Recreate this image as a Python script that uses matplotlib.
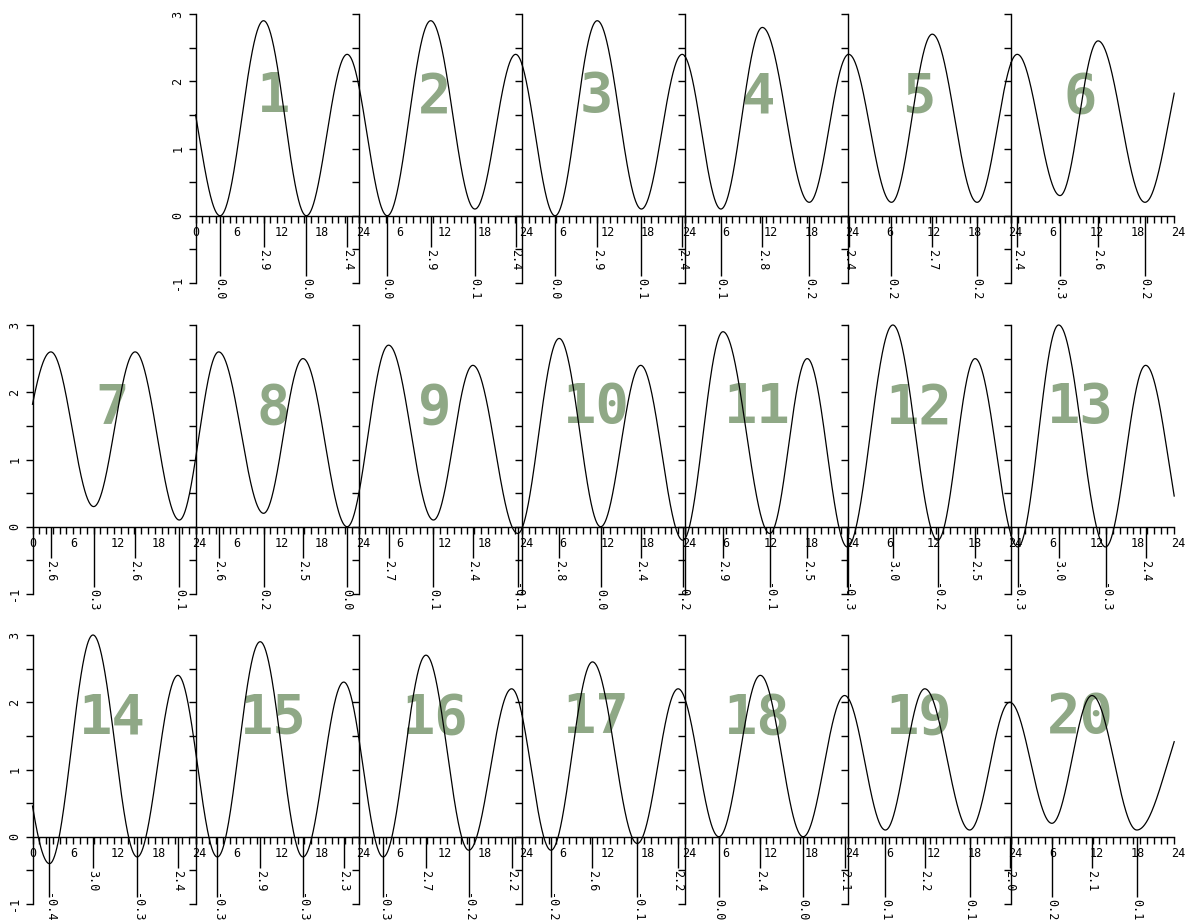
import numpy as np
import matplotlib
matplotlib.use('Agg')
import matplotlib.pyplot as plt
import matplotlib.transforms as mtransforms
from matplotlib.ticker import FixedLocator, FuncFormatter

# high / low waters: day, hour of day, height
# (the day 0 and day 21 entries only shape the curve at the two ends)
ext_day = [0,
           1, 1, 1, 1,
           2, 2, 2, 2,
           3, 3, 3, 3,
           4, 4, 4,
           5, 5, 5, 5,
           6, 6, 6, 6,
           7, 7, 7, 7,
           8, 8, 8, 8,
           9, 9, 9, 9,
           10, 10, 10, 10,
           11, 11, 11, 11,
           12, 12, 12,
           13, 13, 13, 13,
           14, 14, 14, 14,
           15, 15, 15, 15,
           16, 16, 16, 16,
           17, 17, 17, 17,
           18, 18, 18, 18,
           19, 19, 19, 19,
           20, 20, 20,
           21]
ext_hour = [21.4,
            3.6, 10.0, 16.3, 22.3,
            4.2, 10.6, 17.1, 23.1,
            4.9, 11.1, 17.6, 23.6,
            5.3, 11.4, 18.3,
            0.1, 6.4, 12.4, 19.0,
            0.9, 7.2, 12.8, 19.7,
            2.7, 9.0, 15.1, 21.6,
            3.4, 10.0, 15.8, 22.3,
            4.4, 11.0, 16.8, 23.4,
            5.5, 11.6, 17.5, 23.7,
            5.6, 12.5, 18.0, 23.9,
            6.6, 13.2, 18.7,
            1.0, 7.0, 13.9, 19.8,
            2.5, 8.9, 15.4, 21.4,
            3.2, 9.5, 15.8, 21.8,
            3.6, 9.9, 16.2, 22.5,
            4.3, 10.4, 17.0, 23.0,
            5.0, 11.1, 17.4, 23.5,
            5.5, 11.3, 17.9, 23.8,
            6.0, 11.9, 18.5,
            3.3]
ext_height = [2.4,
              0.0, 2.9, 0.0, 2.4,
              0.0, 2.9, 0.1, 2.4,
              0.0, 2.9, 0.1, 2.4,
              0.1, 2.8, 0.2,
              2.4, 0.2, 2.7, 0.2,
              2.4, 0.3, 2.6, 0.2,
              2.6, 0.3, 2.6, 0.1,
              2.6, 0.2, 2.5, 0.0,
              2.7, 0.1, 2.4, -0.1,
              2.8, 0.0, 2.4, -0.2,
              2.9, -0.1, 2.5, -0.3,
              3.0, -0.2, 2.5,
              -0.3, 3.0, -0.3, 2.4,
              -0.4, 3.0, -0.3, 2.4,
              -0.3, 2.9, -0.3, 2.3,
              -0.3, 2.7, -0.2, 2.2,
              -0.2, 2.6, -0.1, 2.2,
              0.0, 2.4, 0.0, 2.1,
              0.1, 2.2, 0.1, 2.0,
              0.2, 2.1, 0.1,
              2.0]

n_days = 20

t_ext = (np.array(ext_day) - 1) * 24 + np.array(ext_hour)
h_ext = np.array(ext_height)

# tide curve between successive extremes (half cosine)
t = np.arange(0, n_days * 24 + 0.001, 0.05)
i = np.searchsorted(t_ext, t, side='right') - 1
frac = (t - t_ext[i]) / (t_ext[i + 1] - t_ext[i])
level = h_ext[i] + (h_ext[i + 1] - h_ext[i]) * (1 - np.cos(np.pi * frac)) / 2

W, H = 1185, 924
col_w = 163.1
x_start = 32.5
row_top = [14, 325, 635]
row_h = 269
mono = 'DejaVu Sans Mono'
num_color = '#8fa886'

fig = plt.figure(figsize=(W / 100, H / 100), dpi=100)
shift = mtransforms.ScaledTranslation(-3 / 100, 0, fig.dpi_scale_trans)

axes = {}
for d in range(1, n_days + 1):
    r, c = divmod(d, 7)
    left = x_start + c * col_w
    ax = fig.add_axes([left / W, 1 - (row_top[r] + row_h) / H, col_w / W, row_h / H])
    ax.patch.set_visible(False)
    ax.set_xlim(0, 24)
    ax.set_ylim(-1, 3)
    first = (d == 1 or c == 0)

    for s in ['top', 'right']:
        ax.spines[s].set_visible(False)
    ax.spines['bottom'].set_position(('data', 0))
    ax.spines['left'].set_linewidth(1.0)
    ax.spines['bottom'].set_linewidth(1.0)

    ax.xaxis.set_major_locator(FixedLocator(range(0, 25)))
    ax.xaxis.set_major_formatter(FuncFormatter(
        lambda v, p, first=first: str(int(round(v))) if (round(v) % 6 == 0 and (round(v) > 0 or first)) else ''))
    ax.yaxis.set_major_locator(FixedLocator(np.arange(-1, 3.01, 0.5)))
    ax.yaxis.set_major_formatter(FuncFormatter(
        lambda v, p, first=first: str(int(round(v))) if (first and abs(v - round(v)) < 1e-6) else ''))
    ax.tick_params(axis='x', direction='out', length=5, width=1.0, labelsize=8.5, pad=2.5)
    ax.tick_params(axis='y', direction='out', length=5, width=1.0, labelsize=8.5, pad=3,
                   labelrotation=90)
    for lab in ax.get_xticklabels():
        lab.set_ha('left')
        lab.set_family(mono)
        lab.set_transform(lab.get_transform() + shift)
    for lab in ax.get_yticklabels():
        lab.set_family(mono)
        lab.set_va('center')

    m = (t >= (d - 1) * 24) & (t <= d * 24)
    ax.plot(t[m] - (d - 1) * 24, level[m], color='black', lw=0.9, clip_on=False, zorder=3)

    ax.text(11.7 - 0.25 * c, 1.77, str(d), fontsize=40, fontweight='bold', color=num_color,
            ha='center', va='center', family=mono, zorder=2)
    axes[d] = ax

# high / low markers with their heights
for dd, hh, hv in zip(ext_day, ext_hour, ext_height):
    if dd not in axes:
        continue
    ax = axes[dd]
    if hv > 1.2:
        y_end, y_txt = -0.47, -0.5
    else:
        y_end, y_txt = -0.9, -0.93
    if hv < 0:
        # the minus sign sits on the end of the marker line
        y_txt += 0.1
    ax.vlines(hh, y_end, 0, color='black', lw=1.0, clip_on=False)
    ax.text(hh, y_txt, f"{hv:.1f}", rotation=-90, ha='center', va='top', fontsize=8.5,
            family=mono, clip_on=False)

fig.savefig('out.png', dpi=100)
